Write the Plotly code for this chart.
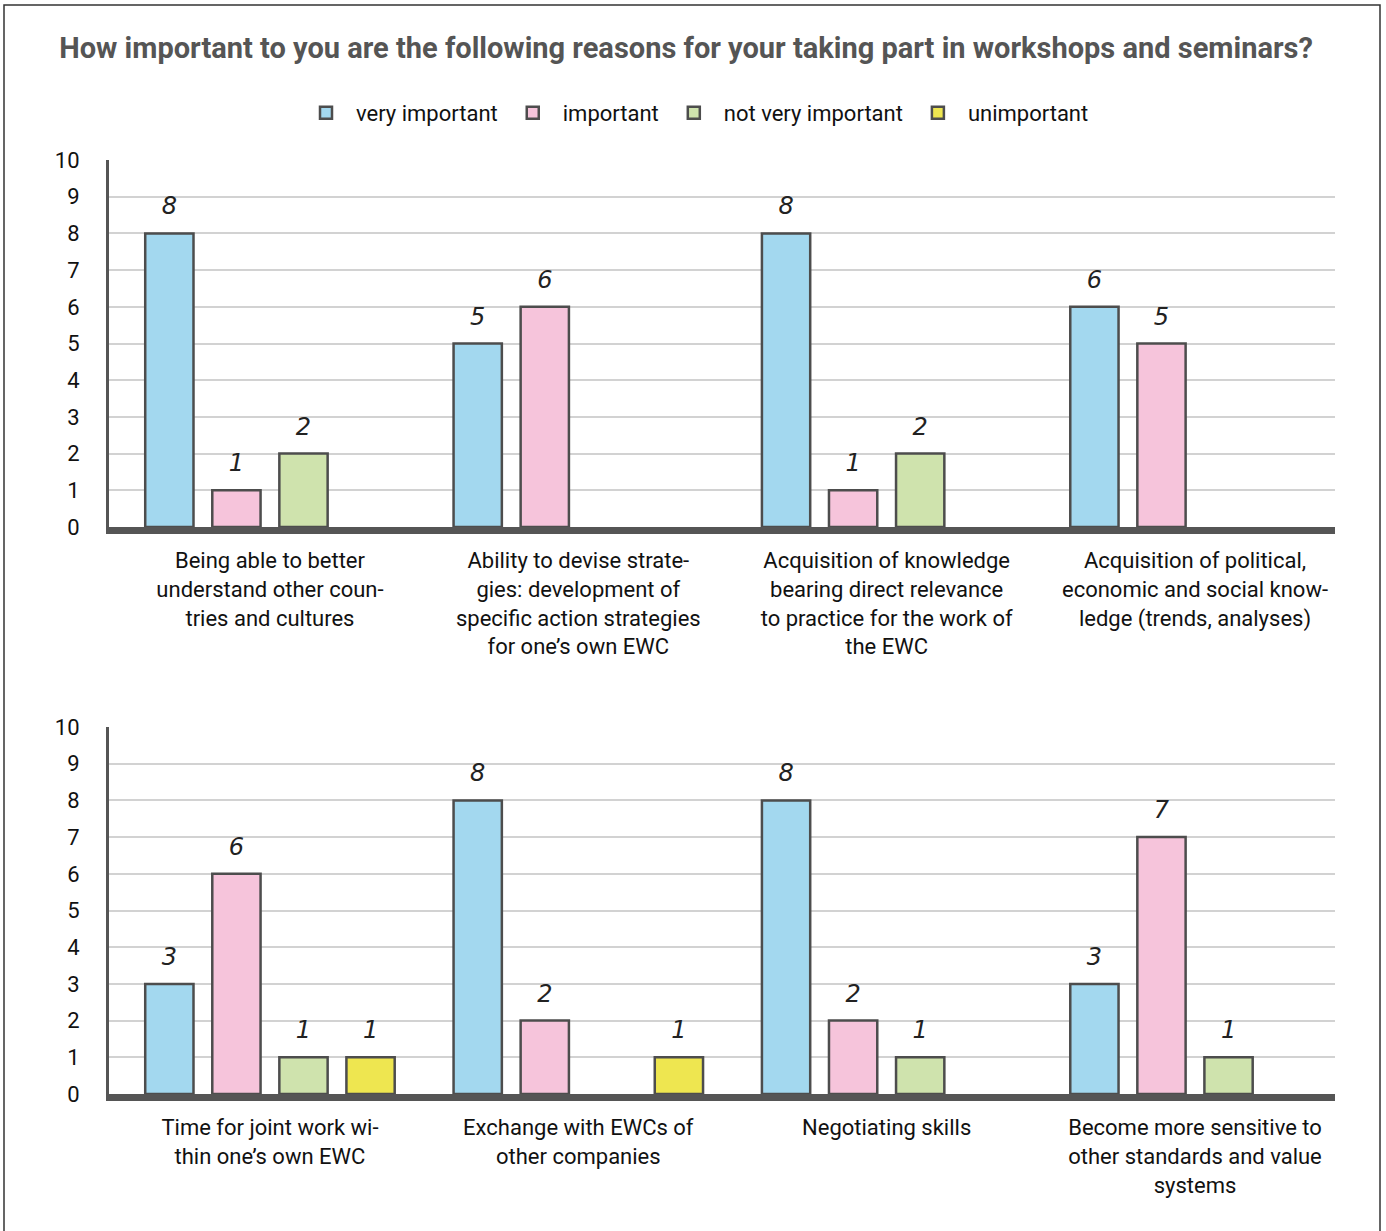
import plotly.graph_objects as go

title = "How important to you are the following reasons for your taking part in workshops and seminars?"
series = ["very important", "important", "not very important", "unimportant"]
colors = ["#a3d8ef", "#f6c4db", "#cfe3ad", "#eee650"]

cats_top = [
    "Being able to better<br>understand other coun-<br>tries and cultures",
    "Ability to devise strate-<br>gies: development of<br>specific action strategies<br>for one’s own EWC",
    "Acquisition of knowledge<br>bearing direct relevance<br>to practice for the work of<br>the EWC",
    "Acquisition of political,<br>economic and social know-<br>ledge (trends, analyses)",
]
cats_bottom = [
    "Time for joint work wi-<br>thin one’s own EWC",
    "Exchange with EWCs of<br>other companies",
    "Negotiating skills",
    "Become more sensitive to<br>other standards and value<br>systems",
]

# values per series, per category
top_values = {
    "very important":     [8, 5, 8, 6],
    "important":          [1, 6, 1, 5],
    "not very important": [2, 0, 2, 0],
    "unimportant":        [0, 0, 0, 0],
}
bottom_values = {
    "very important":     [3, 8, 8, 3],
    "important":          [6, 2, 2, 7],
    "not very important": [1, 0, 1, 1],
    "unimportant":        [1, 1, 0, 0],
}

FONT = "Roboto"
fig = go.Figure()

bargap = 0.13
n = len(series)
slot = (1 - bargap) / n

for panel, (vals, xa, ya) in enumerate([(top_values, "x", "y"), (bottom_values, "x2", "y2")]):
    for k, s in enumerate(series):
        ys = vals[s]
        xs = list(range(len(ys)))
        fig.add_trace(go.Bar(
            x=xs, y=ys, name=s, xaxis=xa, yaxis=ya,
            marker=dict(color=colors[k],
                        line=dict(color="#4d4d4d", width=[2.5 if v > 0 else 0 for v in ys])),
            showlegend=(panel == 1), legendgroup=s, legendrank=k,
            offsetgroup=str(k),
        ))
        # value labels (handwritten style)
        lx = [i + (k - (n - 1) / 2) * slot for i, v in enumerate(ys) if v > 0]
        ly = [v + 0.68 for v in ys if v > 0]
        lt = [str(v) for v in ys if v > 0]
        fig.add_trace(go.Scatter(
            x=lx, y=ly, text=lt, mode="text", xaxis=xa, yaxis=ya,
            textfont=dict(family="DejaVu Sans", size=24, color="#222", style="italic", weight=200),
            showlegend=False, hoverinfo="skip", cliponaxis=False,
        ))

L, R, T, B = 109, 51, 160, 137
W, H = 1386, 1231
ph = H - T - B
top_dom = [(1094 - 527) / ph, 1.0]
bot_dom = [0.0, (1094 - 727) / ph]

xcommon = dict(
    range=[-0.522, 3.454], tickmode="array", tickvals=[0, 1, 2, 3],
    showline=True, linecolor="#555555", linewidth=7, ticks="",
    tickfont=dict(family=FONT, size=22, color="#111"), showgrid=False,
    zeroline=False, ticklabelstandoff=8,
)
ycommon = dict(
    range=[0, 10], tickvals=list(range(0, 11)), showgrid=True,
    gridcolor="#d2d2d2", gridwidth=1.5, showline=True, linecolor="#555555",
    linewidth=3, zeroline=False, ticks="", ticklabelstandoff=22,
    tickfont=dict(family=FONT, size=22, color="#111"),
)

fig.update_layout(
    width=W, height=H,
    margin=dict(l=L, r=R, t=T, b=B),
    paper_bgcolor="white", plot_bgcolor="white",
    barmode="group", bargap=bargap, bargroupgap=0.28,
    title=dict(text="<b>" + title + "</b>", x=0.495, xanchor="center", y=1 - 48 / H, yanchor="middle",
               font=dict(family=FONT, size=29, color="#555555")),
    legend=dict(orientation="h", x=(695 - L) / 1226, xanchor="center", y=(1094 - 113) / ph, yanchor="middle",
                font=dict(family=FONT, size=22, color="#111"), itemwidth=50, traceorder="normal",
                bgcolor="rgba(0,0,0,0)"),
    xaxis=dict(xcommon, domain=[0, 1], anchor="y", ticktext=cats_top),
    yaxis=dict(ycommon, domain=top_dom, anchor="x"),
    xaxis2=dict(xcommon, domain=[0, 1], anchor="y2", ticktext=cats_bottom),
    yaxis2=dict(ycommon, domain=bot_dom, anchor="x2"),
    shapes=[dict(type="rect", xref="paper", yref="paper",
                 x0=(4 - L) / 1226, x1=(1380 - L) / 1226,
                 y0=-0.3, y1=(1094 - 5) / ph,
                 line=dict(color="#333", width=1.5), layer="below")],
)

fig.write_html("out.html")
